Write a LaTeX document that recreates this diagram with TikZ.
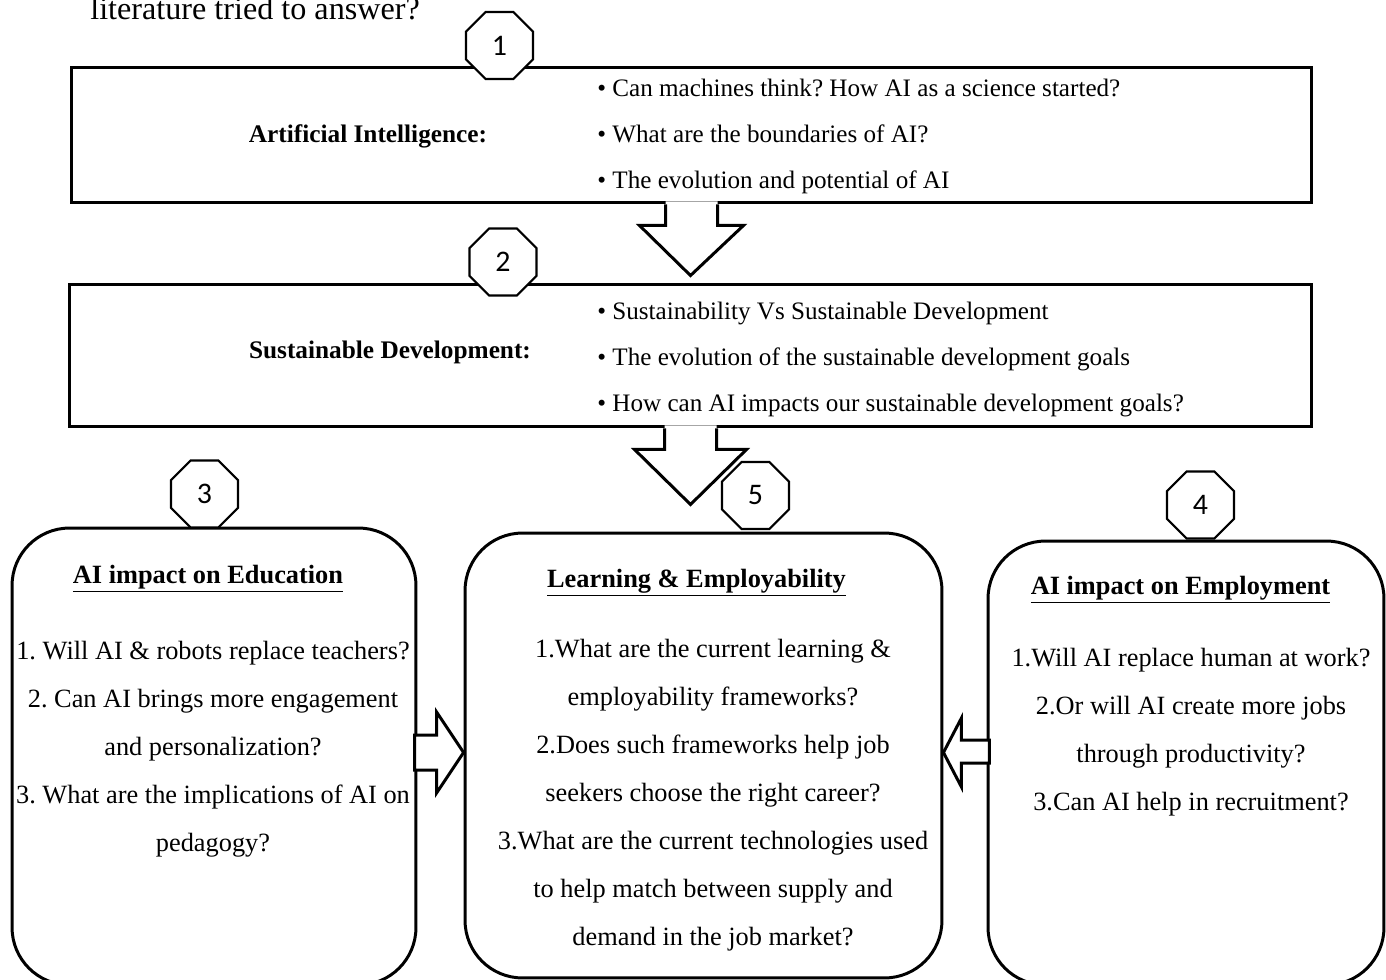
\documentclass[tikz,border=0pt]{standalone}
\usepackage{fontspec}
\setmainfont{Liberation Serif}
\newfontfamily\numfont{Carlito}
\usetikzlibrary{shapes.geometric,calc}
\frenchspacing

\begin{document}
\begin{tikzpicture}[x=0.02cm,y=-0.02cm,
 box/.style={rectangle,draw,line width=1.7pt,inner sep=0pt,fill=white},
 roundbox/.style={box,rounded corners=1.15cm},
 octa/.style={regular polygon,regular polygon sides=8,draw,fill=white,line width=1.2pt,
              minimum size=1.45cm,inner sep=0pt,font=\numfont\fontsize{17}{20}\selectfont},
 head/.style={font=\bfseries\fontsize{14.4}{17}\selectfont,inner sep=0pt},
 bullets/.style={font=\fontsize{14.3}{26.1}\selectfont,align=left,inner sep=0pt},
 body/.style={font=\fontsize{15}{27.3}\selectfont,align=center,inner sep=0pt},
 blockarrow/.style={draw,line width=1.7pt,fill=white,line join=miter}]
\useasboundingbox (0,0) rectangle (1386,980);
\fill[white] (0,0) rectangle (1386,980);
\node[anchor=base west,inner sep=0pt,font=\fontsize{18.3}{22}\selectfont] (lead) at (90,20) {literature tried to answer?};

% the two wide boxes
\node[box,minimum width=24.82cm,minimum height=2.72cm] (ai) at (691.5,135) {};
\node[box,minimum width=24.86cm,minimum height=2.86cm] (sd) at (690.5,355.5) {};
\node[head,anchor=base] (aititle) at (368,142) {Artificial Intelligence:};
\node[bullets,anchor=base west] (aitext) at (597,188) {\textbullet\ Can machines think? How AI as a science started?\\
 \textbullet\ What are the boundaries of AI?\\
 \textbullet\ The evolution and potential of AI};
\node[head,anchor=base] (sdtitle) at (390,358) {Sustainable Development:};
\node[bullets,anchor=base west] (sdtext) at (597,411) {\textbullet\ Sustainability Vs Sustainable Development\\
 \textbullet\ The evolution of the sustainable development goals\\
 \textbullet\ How can AI impacts our sustainable development goals?};

% the three lower boxes
\node[roundbox,minimum width=8.08cm,minimum height=9.14cm] (edu) at (214,756.5) {};
\node[roundbox,minimum width=9.54cm,minimum height=8.9cm] (learn) at (703.5,755.5) {};
\node[roundbox,minimum width=7.92cm,minimum height=8.88cm] (emp) at (1186,763) {};
\node[head,anchor=base,font=\bfseries\fontsize{15}{17}\selectfont] (edutitle) at (208,583) {\underline{AI impact on Education}};
\node[head,anchor=base,font=\bfseries\fontsize{15}{17}\selectfont] (learntitle) at (696.5,587) {\underline{Learning \& Employability}};
\node[head,anchor=base,font=\bfseries\fontsize{15}{17}\selectfont] (emptitle) at (1180.5,594) {\underline{AI impact on Employment}};
\node[body,anchor=base] (edutext) at (213,851) {1. Will AI \& robots replace teachers?\\
 2. Can AI brings more engagement\\
 and personalization?\\
 3. What are the implications of AI on\\
 pedagogy?};
\node[body,anchor=base] (learntext) at (713,945) {1.What are the current learning \&\\
 employability frameworks?\\
 2.Does such frameworks help job\\
 seekers choose the right career?\\
 3.What are the current technologies used\\
 to help match between supply and\\
 demand in the job market?};
\node[body,anchor=base] (emptext) at (1191,810) {1.Will AI replace human at work?\\
 2.Or will AI create more jobs\\
 through productivity?\\
 3.Can AI help in recruitment?};

% block arrows
\coordinate (tip2) at ($(sd.south)+(0,76)$);
\fill[white] ($(ai.south)+(-26,-3)$) -- ($(ai.south)+(26,-3)$) -- ($(ai.south)+(26,21)$) -- ($(ai.south)+(52,21)$)
 -- ($(sd.north)+(0,-7)$) -- ($(ai.south)+(-52,21)$) -- ($(ai.south)+(-26,21)$) -- cycle;
\draw[blockarrow] ($(ai.south)+(-26,0)$) -- ++(0,21) -- ++(-26,0) -- ($(sd.north)+(0,-7)$)
 -- ($(ai.south)+(52,21)$) -- ++(-26,0) -- ++(0,-21);
\fill[white] ($(sd.south)+(-26,-3)$) -- ($(sd.south)+(26,-3)$) -- ($(sd.south)+(26,21)$) -- ($(sd.south)+(56,21)$)
 -- (tip2) -- ($(sd.south)+(-56,21)$) -- ($(sd.south)+(-26,21)$) -- cycle;
\draw[blockarrow] ($(sd.south)+(-26,0)$) -- ++(0,21) -- ++(-30,0) -- (tip2)
 -- ($(sd.south)+(56,21)$) -- ++(-30,0) -- ++(0,-21);
\draw[blockarrow] ($(learn.west)+(-49,-20.5)$) -- ++(22,0) -- ++(0,-23) -- ($(learn.west)+(0,-3)$)
 -- ($(learn.west)+(-27,37.5)$) -- ++(0,-23) -- ++(-22,0) -- cycle;
\draw[blockarrow] ($(learn.east)+(46,-15.5)$) -- ++(-28,0) -- ++(0,-22) -- ($(learn.east)+(0,-3)$)
 -- ($(learn.east)+(18,31.5)$) -- ++(0,-24) -- ++(28,0) -- cycle;

% numbered octagons
\node[octa] (n1) at (499.5,45.5) {1};
\node[octa] (n2) at (503,262) {2};
\node[octa] (n3) at (204.5,494) {3};
\node[octa] (n5) at (755.5,495.5) {5};
\node[octa] (n4) at (1200.5,505) {4};
\end{tikzpicture}
\end{document}
